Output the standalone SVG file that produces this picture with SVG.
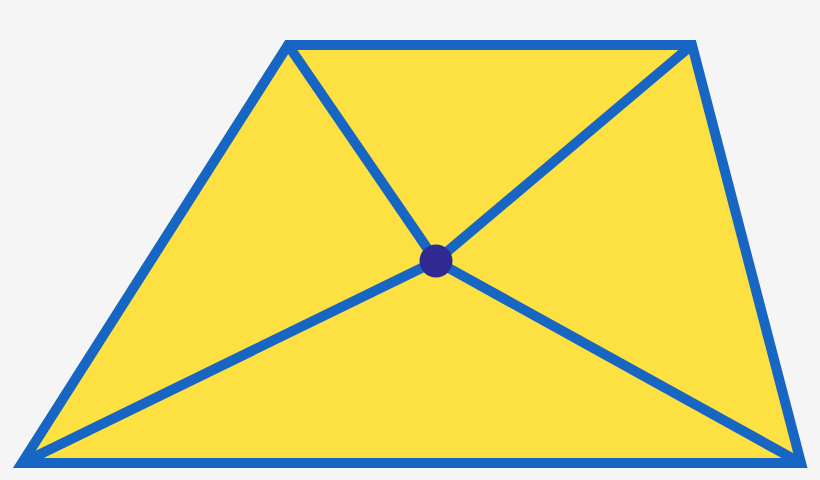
<svg xmlns="http://www.w3.org/2000/svg" width="820" height="480" viewBox="0 0 820 480">
<style>
.edge{stroke:#1866c3;stroke-width:10;fill:none;stroke-linecap:butt}
</style>
<rect width="820" height="480" fill="#f5f5f5"/>
<g id="trapezoid">
<polygon points="288,45 692,45 801,463 22,463" fill="#fde142" stroke="#1866c3" stroke-width="10" stroke-linejoin="miter" stroke-miterlimit="10"/>
</g>
<g id="connectors">
<line class="edge" x1="288" y1="45" x2="436" y2="261"/>
<line class="edge" x1="692" y1="45" x2="436" y2="261"/>
<line class="edge" x1="801" y1="463" x2="436" y2="261"/>
<line class="edge" x1="22" y1="463" x2="436" y2="261"/>
</g>
<g id="center">
<circle cx="436" cy="261" r="16.5" fill="#2e2a8f"/>
</g>
</svg>
